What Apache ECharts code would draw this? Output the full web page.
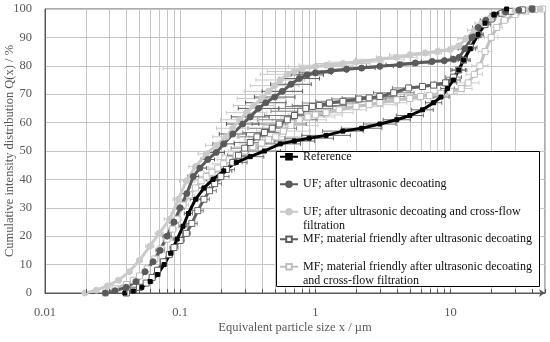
<!DOCTYPE html>
<html><head><meta charset="utf-8">
<script src="https://cdn.jsdelivr.net/npm/echarts@6/dist/echarts.min.js"></script>
<style>html,body{margin:0;padding:0;background:#fff}#c{width:550px;height:342px}</style>
</head><body><div id="c"></div>
<script>
// ---------- data (x in µm, Q in %) ----------
const seriesNames = [
  'Reference',
  'UF; after ultrasonic decoating',
  'UF; after ultrasonic decoating and cross-flow filtration',
  'MF; material friendly after ultrasonic decoating',
  'MF; material friendly after ultrasonic decoating and cross-flow filtration'
];
const legendLines = {
  'UF; after ultrasonic decoating and cross-flow filtration': 'UF; after ultrasonic decoating and cross-flow\nfiltration',
  'MF; material friendly after ultrasonic decoating and cross-flow filtration': 'MF; material friendly after ultrasonic decoating\nand cross-flow filtration'
};
const xTickLabels = [0.01, 0.1, 1, 10];
const xGridVals = [0.02,0.03,0.04,0.05,0.06,0.07,0.08,0.09,0.2,0.3,0.4,0.5,0.6,0.7,0.8,0.9,2,3,4,5,6,7,8,9,20,30];
const xMinorTicks = [0.02,0.03,0.04,0.05,0.06,0.07,0.08,0.09,0.2,0.3,0.4,0.5,0.6,0.7,0.8,0.9,2,3,4,5,6,7,8,9,20,30,40];
const yTicks = [0,10,20,30,40,50,60,70,80,90,100];

const refX = [0.039,0.045,0.052,0.06,0.068,0.076,0.085,0.095,0.105,0.115,0.13,0.15,0.175,0.21,0.26,0.33,0.42,0.55,0.7,0.9,1.2,1.6,2.2,3.0,4.0,5.0,6.2,7.5,8.5,9.5,10.5,11.5,12.5,14,16,18,21,26];
const refQ = [0,0.7,2,4,6.5,10,14,19,23.5,28,33,37,40,43,46,48,50,52.5,53.5,54.5,55.5,57,58,59.5,61,62.5,64.5,67,69,72,75,78.5,82,86,91,95,98,100];
const refErr = [0,0.01,0.01,0.02,0.02,0.02,0.02,0.03,0.03,0.03,0.04,0.04,0.05,0.06,0.08,0.1,0.12,0.15,0.15,0.18,0.18,0.15,0.15,0.12,0.1,0.1,0.08,0.06,0.06,0.05,0.05,0.05,0.04,0.04,0.03,0.03,0.02,0];

const ufX = [0.028,0.033,0.04,0.047,0.055,0.063,0.071,0.08,0.09,0.1,0.112,0.125,0.14,0.16,0.185,0.21,0.245,0.29,0.33,0.38,0.43,0.5,0.57,0.66,0.76,0.87,1.0,1.3,1.7,2.2,3,4.2,5.5,7.3,9,10.5,11.6,12.8,14.4,16,18.2,21,25.5,32,40];
const ufQ = [0,0.8,2,4,7.5,11,15,20,25,30,35,41,44,47,49.5,52.5,56,59.5,62,65,67,69,71,73.5,75.5,76.8,77.5,78.2,78.8,79.2,79.8,80.4,81,81.5,81.8,82.3,83,86,90,93.5,96,98,99,99.6,100];
const ufErr = [0,0.01,0.01,0.02,0.02,0.02,0.03,0.03,0.03,0.03,0.04,0.04,0.05,0.05,0.06,0.08,0.1,0.12,0.14,0.15,0.15,0.15,0.15,0.15,0.15,0.12,0.12,0.12,0.1,0.1,0.1,0.1,0.1,0.08,0.08,0.06,0.06,0.05,0.05,0.04,0.04,0.03,0.03,0.02,0];

const ufcfX = [0.0197,0.024,0.029,0.035,0.042,0.05,0.0596,0.07,0.0837,0.097,0.111,0.13,0.156,0.185,0.219,0.245,0.275,0.31,0.35,0.4,0.45,0.5,0.55,0.62,0.7,0.8,1.0,1.2,1.6,2.0,3.0,4.0,5.0,6.5,8,10,11.5,13,15,17,20,25,30,38,46];
const ufcfQ = [0,1,2.5,4.5,7.5,11.5,16.5,21,26,33,39.5,44.5,49,52,55,58,61,63.5,66,68.5,71,73,75,77,78,79,79.7,80.2,80.8,81.3,82.3,83,83.8,84.5,85,85.8,87,89.5,92.5,95,97,98.5,99.3,99.8,100];
const ufcfErr = [0,0.01,0.01,0.02,0.02,0.02,0.03,0.03,0.04,0.04,0.05,0.05,0.06,0.08,0.1,0.12,0.14,0.15,0.15,0.18,0.18,0.18,0.18,0.2,0.2,[1.03,0.1],0.2,0.2,0.2,0.2,0.18,0.15,0.15,0.12,0.1,0.08,0.06,0.06,0.05,0.05,0.04,0.03,0.02,0.01,0];

const mfX = [0.04,0.045,0.05,0.056,0.062,0.068,0.075,0.083,0.09,0.1,0.111,0.122,0.135,0.15,0.165,0.18,0.2,0.22,0.245,0.27,0.3,0.33,0.37,0.42,0.48,0.54,0.62,0.7,0.78,0.85,0.95,1.07,1.27,1.6,2.1,2.5,3.0,3.8,4.9,6.2,7.5,9.2,10.5,11.5,12.5,14,16,18,20,24,28,34,40];
const mfQ = [0,1,2,3.5,5.5,8,11,13.5,16,18.5,21,24.5,29,33,36,38.5,41,43.5,46,48.5,51,53,55,56.5,58,59.5,61,62.5,64,65,65.7,66,66.9,67.5,68.3,68.7,69.2,70.5,72.2,72.7,73.2,74,76,78.5,82,86.5,91,94.5,96.5,98.5,99.2,99.7,100];
const mfErr = [0,0.01,0.01,0.01,0.02,0.02,0.02,0.02,0.03,0.03,0.03,0.04,0.04,0.04,0.05,0.05,0.06,0.06,0.07,0.08,0.1,0.12,0.14,0.16,0.18,0.2,0.22,0.22,0.22,0.2,0.2,0.2,0.2,0.2,0.2,0.2,0.18,0.15,0.12,0.1,0.1,0.08,0.06,0.06,0.05,0.05,0.04,0.04,0.03,0.03,0.02,0.01,0];

const mfcfX = [0.028,0.033,0.04,0.045,0.05,0.057,0.065,0.072,0.08,0.088,0.095,0.105,0.117,0.13,0.143,0.156,0.172,0.19,0.21,0.231,0.26,0.3,0.345,0.4,0.45,0.51,0.58,0.66,0.76,0.88,1.0,1.2,1.5,2.0,2.5,3.0,4.0,5.0,6.0,7.0,8.5,10,12,13.5,15,16.5,18,20,22,25,30,36,42,48];
const mfcfQ = [0,1.5,3,4.5,6,8.5,12,15.5,19,22.5,26,31,34.5,37,39.5,41,42.5,44,45.5,47,48.5,50,51.5,52.8,54,55,57,59,61,62,62.7,63.5,64.5,65.7,66.3,67,68,68.5,69.2,69.5,70.3,71,72,74,77,80,85,90,93.5,96,98,99.3,99.8,100];
const mfcfErr = [0,0.01,0.01,0.01,0.02,0.02,0.02,0.03,0.03,0.03,0.03,0.04,0.04,0.05,0.05,0.06,0.06,0.07,0.08,0.09,0.1,0.12,0.14,0.16,0.18,0.2,0.2,0.2,0.2,0.2,0.2,0.2,0.2,0.2,0.2,0.2,0.18,0.18,0.15,0.15,0.12,0.1,0.08,0.08,0.06,0.06,0.05,0.05,0.04,0.03,0.03,0.02,0.01,0];

// ---------- styles ----------
const FONT = 'Liberation Serif';
const styles = [
  {xs: refX, qs: refQ, err: refErr, line: '#000000', fill: '#000000', border: '#000000', symbol: 'rect', size: 4, errColor: '#6e6e6e'},
  {xs: ufX, qs: ufQ, err: ufErr, line: '#5a5a5a', fill: '#5a5a5a', border: '#5a5a5a', symbol: 'circle', size: 6, errColor: '#5a5a5a'},
  {xs: ufcfX, qs: ufcfQ, err: ufcfErr, line: '#cacaca', fill: '#cacaca', border: '#cacaca', symbol: 'circle', size: 6, errColor: '#c8c8c8'},
  {xs: mfX, qs: mfQ, err: mfErr, line: '#5f5f5f', fill: '#ffffff', border: '#5f5f5f', symbol: 'rect', size: 6, errColor: '#7f7f7f'},
  {xs: mfcfX, qs: mfcfQ, err: mfcfErr, line: '#c0c0c0', fill: '#ffffff', border: '#bdbdbd', symbol: 'rect', size: 6, errColor: '#cccccc'}
];
const drawOrder = [4, 3, 2, 1, 0];

function errRender(color) {
  return function (params, api) {
    const x = api.value(0), q = api.value(1), l = api.value(2), r = api.value(3);
    if (!(l > 0 || r > 0)) return null;
    const lo = Math.max(x / Math.pow(10, l), 0.01), hi = Math.min(x * Math.pow(10, r), 50);
    const p0 = api.coord([lo, q]), p1 = api.coord([hi, q]);
    const c = 2, st = {stroke: color, lineWidth: 1};
    return {type: 'group', children: [
      {type: 'line', shape: {x1: p0[0], y1: p0[1], x2: p1[0], y2: p1[1]}, style: st},
      {type: 'line', shape: {x1: p0[0], y1: p0[1] - c, x2: p0[0], y2: p0[1] + c}, style: st},
      {type: 'line', shape: {x1: p1[0], y1: p1[1] - c, x2: p1[0], y2: p1[1] + c}, style: st}
    ]};
  };
}

const series = [];
// minor vertical grid lines
series.push({
  type: 'custom', name: 'grid', silent: true, z: 1,
  data: xGridVals.map(v => [v, 0]), encode: {x: 0, y: 1},
  renderItem: function (params, api) {
    const p0 = api.coord([api.value(0), 0]), p1 = api.coord([api.value(0), 100]);
    const x = Math.round(p0[0]) + 0.5;
    return {type: 'line', shape: {x1: x, y1: p0[1], x2: x, y2: p1[1]}, style: {stroke: '#c6c6c6', lineWidth: 1}};
  }
});
// minor ticks on x axis
series.push({
  type: 'custom', name: 'ticks', silent: true, z: 4,
  data: xMinorTicks.map(v => [v, 0]), encode: {x: 0, y: 1},
  renderItem: function (params, api) {
    const p0 = api.coord([api.value(0), 0]);
    const x = Math.round(p0[0]) + 0.5;
    return {type: 'line', shape: {x1: x, y1: p0[1], x2: x, y2: p0[1] - 4}, style: {stroke: '#595959', lineWidth: 1}};
  }
});
drawOrder.forEach(i => {
  const s = styles[i];
  series.push({
    type: 'custom', name: seriesNames[i] + ' err', silent: true, z: 2,
    data: s.xs.map((x, k) => {
      const e = s.err[k];
      const l = Array.isArray(e) ? e[0] : e, r = Array.isArray(e) ? e[1] : e;
      return [x, s.qs[k], l, r];
    }),
    encode: {x: 0, y: 1},
    renderItem: errRender(s.errColor)
  });
});
drawOrder.forEach(i => {
  const s = styles[i];
  series.push({
    type: 'line', name: seriesNames[i], z: 3,
    data: s.xs.map((x, k) => [x, s.qs[k]]),
    symbol: s.symbol, symbolSize: s.size, showSymbol: true,
    lineStyle: {color: s.line, width: 3},
    itemStyle: {color: s.fill, borderColor: s.border, borderWidth: 1},
    emphasis: {disabled: true}
  });
});

const chart = echarts.init(document.getElementById('c'), null, {renderer: 'canvas'});
chart.setOption({
  animation: false,
  backgroundColor: '#ffffff',
  grid: {left: 45, right: 5, top: 9, bottom: 49, containLabel: false, outerBoundsMode: 'none',
    show: true, borderColor: '#595959', borderWidth: 1},
  xAxis: {
    type: 'log', logBase: 10, min: 0.01, max: 50,
    name: 'Equivalent particle size x / µm', nameLocation: 'middle', nameGap: 28, nameMoveOverlap: false,
    nameTextStyle: {fontFamily: FONT, fontSize: 12.5, color: '#595959'},
    axisLine: {show: true, lineStyle: {color: '#595959', width: 1}, symbol: ['none', 'arrow'], symbolSize: [6, 6]},
    axisTick: {show: true, inside: true, length: 4, lineStyle: {color: '#595959'}},
    axisLabel: {
      fontFamily: FONT, fontSize: 12.5, color: '#595959', margin: 13,
      formatter: v => {
        const m = xTickLabels.find(t => Math.abs(t - v) / t < 1e-6);
        return m !== undefined ? String(m) : '';
      }
    },
    splitLine: {show: true, lineStyle: {color: '#c6c6c6', width: 1}}
  },
  yAxis: {
    type: 'value', min: 0, max: 100, interval: 10,
    name: 'Cumulative intensity distribution Q(x) / %', nameLocation: 'middle', nameGap: 29, nameMoveOverlap: false,
    nameTextStyle: {fontFamily: FONT, fontSize: 12.5, color: '#595959'},
    axisLine: {show: true, lineStyle: {color: '#595959', width: 1}},
    axisTick: {show: false},
    axisLabel: {fontFamily: FONT, fontSize: 12.5, color: '#595959', margin: 13,
      formatter: v => yTicks.indexOf(v) >= 0 ? String(v) : ''},
    splitLine: {show: true, lineStyle: {color: '#c6c6c6', width: 1}}
  },
  graphic: [{
    type: 'rect', z: 5, silent: true,
    shape: {x: 276.5, y: 151.5, width: 263, height: 135},
    style: {fill: '#ffffff', stroke: '#000000', lineWidth: 1}
  }],
  legend: {
    data: seriesNames, orient: 'vertical', left: 279, top: 135, padding: 0,
    itemGap: -16, itemWidth: 18, itemHeight: 7, z: 10,
    selectedMode: false,
    textStyle: {fontFamily: FONT, fontSize: 12, lineHeight: 14.5, color: '#111111'},
    formatter: n => '\n' + (legendLines[n] || (n + '\n '))
  },
  series: series
});
</script>
</body></html>
